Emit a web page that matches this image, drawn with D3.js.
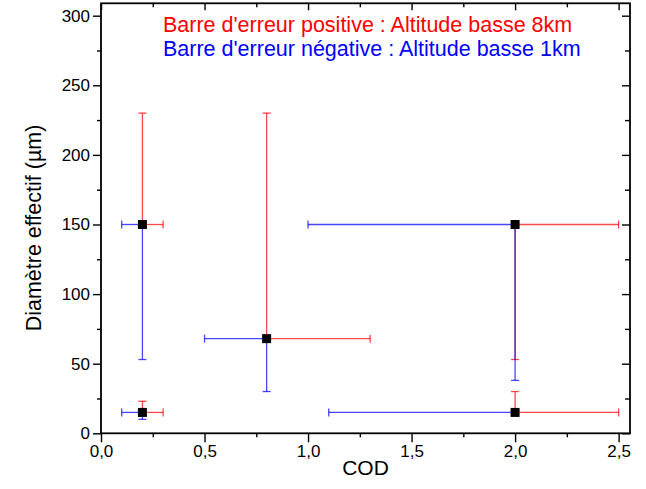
<!DOCTYPE html>
<html><head><meta charset="utf-8">
<script src="https://cdn.jsdelivr.net/npm/d3@7"></script>
<style>body{margin:0;background:#fff}svg{display:block}text{font-family:Arial,"Liberation Sans",sans-serif}</style>
</head><body><svg id="c" width="646" height="489"></svg>
<script>
const cod   = [0.2, 0.2, 0.8, 2.0, 2.0];
const diam  = [150, 15, 68, 150, 15];
// red (positive, 8 km) error bar ends
const redXEnd = [0.3, 0.3, 1.3, 2.5, 2.5];
const redYEnd = [230, 23, 230, 53, 30];
// blue (negative, 1 km) error bar ends
const blueXEnd = [0.1, 0.1, 0.5, 1.0, 1.1];
const blueYEnd = [53, 10, 30, 38, null];
const xTicks = [0, 0.5, 1.0, 1.5, 2.0, 2.5];
const yTicks = [0, 50, 100, 150, 200, 250, 300];
const legendTexts = ["Barre d'erreur positive : Altitude basse 8km", "Barre d'erreur négative : Altitude basse 1km"];
const xTitle = "COD", yTitle = "Diamètre effectif (µm)";

const svg = d3.select("#c");
const L = 101, R = 630, T = 3.3, B = 433.3;
const x = d3.scaleLinear().domain([0, 2.555]).range([L, R]);
const y = d3.scaleLinear().domain([0, 308.9]).range([B, T]);
const fmt = d => d3.format(".1f")(d).replace(".", ",");
const xMinor = d3.range(0.25, 2.55, 0.5);
const yMinor = d3.range(25, 300, 50);

// error bars
const cap = 4;
function drawBars(color, xe, ye) {
  const g = svg.append("g").attr("stroke", color).attr("stroke-width", 1.3).attr("stroke-opacity", 0.72).attr("fill", "none");
  cod.forEach((c, i) => {
    if (xe[i] != null) {
      g.append("line").attr("x1", x(c)).attr("x2", x(xe[i])).attr("y1", y(diam[i])).attr("y2", y(diam[i]));
      g.append("line").attr("x1", x(xe[i])).attr("x2", x(xe[i])).attr("y1", y(diam[i]) - cap).attr("y2", y(diam[i]) + cap);
    }
    if (ye[i] != null) {
      g.append("line").attr("x1", x(c)).attr("x2", x(c)).attr("y1", y(diam[i])).attr("y2", y(ye[i]));
      g.append("line").attr("x1", x(c) - cap).attr("x2", x(c) + cap).attr("y1", y(ye[i])).attr("y2", y(ye[i]));
    }
  });
}
drawBars("#ff0000", redXEnd, redYEnd);
drawBars("#0000ff", blueXEnd, blueYEnd);

// markers
svg.append("g").selectAll("rect").data(cod).join("rect")
  .attr("x", (d) => x(d) - 4.5).attr("y", (d, i) => y(diam[i]) - 4.5)
  .attr("width", 9).attr("height", 9).attr("fill", "#000");

// axes
const axStyle = g => { g.select(".domain").remove(); g.selectAll("line").attr("stroke", "#000").attr("stroke-width", 1.4); };
const xb = svg.append("g").attr("transform", `translate(0,${B})`)
  .call(d3.axisBottom(x).tickValues(xTicks).tickFormat(fmt).tickSize(9).tickPadding(3)).call(axStyle);
xb.selectAll("text").attr("font-size", 17).attr("fill", "#000");
svg.append("g").attr("transform", `translate(0,${B})`)
  .call(d3.axisBottom(x).tickValues(xMinor).tickFormat("").tickSize(4)).call(axStyle);
const yl = svg.append("g").attr("transform", `translate(${L},0)`)
  .call(d3.axisLeft(y).tickValues(yTicks).tickSize(8).tickPadding(3)).call(axStyle);
yl.selectAll("text").attr("font-size", 17).attr("fill", "#000");
svg.append("g").attr("transform", `translate(${L},0)`)
  .call(d3.axisLeft(y).tickValues(yMinor).tickFormat("").tickSize(4)).call(axStyle);
// top (inward)
svg.append("g").attr("transform", `translate(0,${T})`)
  .call(d3.axisBottom(x).tickValues(xTicks).tickFormat("").tickSize(7)).call(axStyle);
svg.append("g").attr("transform", `translate(0,${T})`)
  .call(d3.axisBottom(x).tickValues(xMinor).tickFormat("").tickSize(4)).call(axStyle);
// right (inward)
svg.append("g").attr("transform", `translate(${R},0)`)
  .call(d3.axisLeft(y).tickValues(yTicks).tickFormat("").tickSize(8)).call(axStyle);
svg.append("g").attr("transform", `translate(${R},0)`)
  .call(d3.axisLeft(y).tickValues(yMinor).tickFormat("").tickSize(5)).call(axStyle);

// frame
svg.append("rect").attr("x", L).attr("y", T).attr("width", R - L).attr("height", B - T)
  .attr("fill", "none").attr("stroke", "#000").attr("stroke-width", 1.8);

// titles
svg.append("text").attr("x", (L + R) / 2).attr("y", 475).attr("text-anchor", "middle")
  .attr("font-size", 21).text(xTitle);
svg.append("text").attr("transform", `translate(41,228) rotate(-90)`).attr("text-anchor", "middle")
  .attr("font-size", 21.5).text(yTitle);

// legend
svg.append("text").attr("x", 163).attr("y", 32).attr("font-size", 21.5).attr("fill", "#ff0000").text(legendTexts[0]);
svg.append("text").attr("x", 163).attr("y", 56).attr("font-size", 21.5).attr("fill", "#0000ff").text(legendTexts[1]);
</script></body></html>
